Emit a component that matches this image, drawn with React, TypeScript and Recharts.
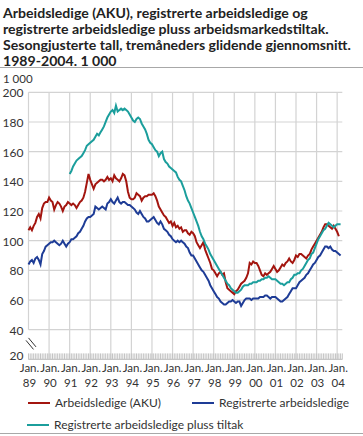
import React from "react";
import { LineChart, Line, XAxis, YAxis, CartesianGrid, ReferenceLine } from "recharts";

const FONT = "Lato, 'Open Sans', sans-serif";
const TEXT = "#333333";
const GRID = "#d3d3d3";

const titleLines = [
  "Arbeidsledige (AKU), registrerte arbeidsledige og",
  "registrerte arbeidsledige pluss arbeidsmarkedstiltak.",
  "Sesongjusterte tall, tremåneders glidende gjennomsnitt.",
  "1989-2004. 1 000",
];

const years = ["89", "90", "91", "92", "93", "94", "95", "96", "97", "98", "99", "00", "01", "02", "03", "04"];
const yTicks = [20, 40, 60, 80, 100, 120, 140, 160, 180, 200];

// Arbeidsledige (AKU), månedlig fra jan. 1989
const aku = [
  107, 109, 107, 110, 112, 116, 118, 115, 122, 125, 126, 126,
  129, 127, 126, 121, 124, 126, 125, 123, 120, 123, 124, 126,
  125, 124, 125, 124, 122, 124, 126, 127, 129, 133, 139, 145,
  141, 138, 135, 138, 139, 140, 141, 141, 140, 141, 143, 141,
  142, 140, 144, 142, 141, 140, 142, 145, 144, 140, 133, 129,
  128, 128, 129, 132, 131, 130, 127, 129, 130, 130, 131, 131,
  131, 132, 130, 127, 123, 121, 119, 117, 116, 114, 112, 113,
  110, 112, 109, 110, 108, 109, 106, 107, 107, 105, 104, 106,
  105, 103, 99, 97, 95, 97, 99, 94, 91, 88, 85, 81,
  80, 78, 76, 78, 79, 77, 78, 72, 68, 67, 66, 65,
  64, 66, 67, 69, 71, 72, 73, 75, 78, 85, 84, 86,
  85, 85, 83, 80, 77, 76, 78, 77, 78, 79, 81, 83,
  81, 79, 80, 82, 84, 83, 85, 86, 88, 86, 85, 87,
  90, 89, 91, 91, 90, 89, 88, 90, 91, 94, 96, 98,
  100, 102, 104, 106, 109, 111, 111, 110, 109, 108, 110, 108,
  106, 103,
];

// Registrerte arbeidsledige, månedlig fra jan. 1989
const registrerte = [
  84, 86, 87, 85, 88, 89, 87, 84, 91, 93, 96, 97,
  98, 99, 99, 100, 99, 98, 97, 98, 100, 98, 96, 98,
  99, 101, 101, 102, 103, 105, 106, 108, 110, 113, 115, 116,
  116, 117, 118, 123, 122, 121, 122, 123, 122, 121, 125, 126,
  128, 126, 125, 127, 129, 126, 125, 126, 126, 125, 124, 124,
  123, 122, 121, 119, 118, 120, 118, 116, 115, 113, 113, 114,
  115, 116, 114, 112, 111, 113, 111, 108, 107, 106, 104, 103,
  101, 100, 99, 100, 99, 100, 99, 98, 96, 95, 92, 90,
  90, 88, 86, 84, 82, 80, 79, 77, 75, 73, 70, 68,
  66, 64, 62, 61, 59, 58, 57, 57, 58, 59, 59, 60,
  59, 58, 59, 59, 56, 58, 60, 61, 61, 61, 60, 61,
  61, 61, 61, 62, 62, 62, 63, 63, 62, 61, 62, 62,
  62, 61, 60, 59, 59, 60, 61, 62, 64, 66, 68, 68,
  68, 70, 72, 73, 74, 75, 77, 78, 80, 82, 84, 85,
  87, 89, 90, 92, 94, 96, 96, 95, 96, 94, 93, 93,
  92, 91, 90,
];

// Registrerte arbeidsledige pluss tiltak, månedlig fra jan. 1991
const plussTiltak = [
  145, 147, 150, 152, 154, 155, 156, 157, 159, 161, 164, 165,
  166, 167, 168, 170, 172, 171, 173, 175, 177, 180, 183, 185,
  187, 188, 186, 191, 187, 188, 189, 188, 189, 188, 187, 185,
  183, 181, 180, 182, 183, 182, 179, 177, 175, 172, 168, 166,
  165, 163, 161, 160, 157, 159, 160, 155, 153, 152, 150, 149,
  148, 147, 146, 143, 141, 140, 137, 134, 130, 127, 125, 122,
  119, 116, 113, 110, 106, 103, 101, 98, 96, 94, 91, 89,
  87, 85, 83, 81, 79, 77, 75, 73, 71, 70, 68, 67,
  66, 65, 65, 66, 67, 69, 70, 70, 70, 71, 71, 72,
  72, 72, 73, 73, 74, 74, 75, 75, 76, 75, 74, 74,
  74, 73, 72, 71, 71, 70, 71, 72, 72, 74, 75, 77,
  77, 78, 78, 80, 81, 83, 85, 87, 88, 91, 92, 95,
  98, 101, 103, 105, 107, 108, 110, 112, 111, 110, 109, 110,
  111, 111, 111,
];
const tiltakStart = 24;

const series = [
  { key: "aku", name: "Arbeidsledige (AKU)", color: "#a3150f" },
  { key: "reg", name: "Registrerte arbeidsledige", color: "#1e3c96" },
  { key: "tiltak", name: "Registrerte arbeidsledige pluss tiltak", color: "#1b9e9c" },
];

const data = registrerte.map((reg, m) => ({
  m,
  aku: m < aku.length ? aku[m] : null,
  reg,
  tiltak: m >= tiltakStart ? plussTiltak[m - tiltakStart] : null,
}));

const monthTicks = Array.from({ length: 184 }, (_, i) => i);
const yearTicks = years.map((_, i) => i * 12);

function MonthTick(props: any) {
  const { x, y, payload } = props;
  const m = payload.value;
  const jan = m % 12 === 0 && m / 12 < years.length;
  return (
    <g>
      <line x1={x} x2={x} y1={y - 6} y2={y} stroke="#c4c4c4" strokeWidth={1} />
      {jan && (
        <text x={x + 1} y={y + 13} textAnchor="middle" fontSize={11.5} fill={TEXT} fontFamily={FONT}>
          Jan.
        </text>
      )}
      {jan && (
        <text x={x + 1} y={y + 28} textAnchor="middle" fontSize={11.5} fill={TEXT} fontFamily={FONT}>
          {years[m / 12]}
        </text>
      )}
    </g>
  );
}

function ValueTick(props: any) {
  const { x, y, payload } = props;
  return (
    <g>
      <text x={x - 5} y={y} dy={payload.value === 20 ? 1 : 5} textAnchor="end" fontSize={12} fill={TEXT} fontFamily={FONT}>
        {payload.value}
      </text>
      {payload.value === 20 && (
        <g stroke="#333" strokeWidth={1}>
          <line x1={x - 2.5} y1={y - 19} x2={x + 5} y2={y - 10} />
          <line x1={x} y1={y - 21.5} x2={x + 7.5} y2={y - 12.5} />
        </g>
      )}
    </g>
  );
}

export default function App() {
  return (
    <div style={{ position: "absolute", left: 0, top: 0, width: 363, height: 436, background: "#fff", fontFamily: FONT, color: TEXT }}>
      <div style={{ position: "absolute", left: 3, top: 4.5, fontSize: 14.1, fontWeight: 700, lineHeight: "16.1px", color: "#222", whiteSpace: "nowrap" }}>
        {titleLines.map((t) => (
          <div key={t}>{t}</div>
        ))}
      </div>
      <div style={{ position: "absolute", left: 0, top: 67, width: 363, height: 1, background: "#a8a8a8" }} />
      <div style={{ position: "absolute", left: 3, top: 71, fontSize: 11.5, lineHeight: "16px" }}>1 000</div>

      <LineChart width={363} height={436} data={data} margin={{ top: 92.3, right: 20.7, bottom: 46.6, left: 0 }}>
        <CartesianGrid vertical={false} stroke={GRID} strokeWidth={1.2} />
        {yearTicks.map((m) => (
          <ReferenceLine
            key={m}
            segment={[{ x: m, y: m === 0 ? 40 : 20 }, { x: m, y: 200 }]}
            stroke={GRID}
            strokeWidth={1.2}
            zIndex={-1}
          />
        ))}
        <XAxis
          dataKey="m"
          type="number"
          domain={[0, 183]}
          ticks={monthTicks}
          interval={0}
          tickSize={0}
          tickMargin={0}
          tickLine={false}
          axisLine={{ stroke: "#c4c4c4" }}
          tick={<MonthTick />}
          height={30}
        />
        <YAxis
          type="number"
          domain={[20, 200]}
          ticks={yTicks}
          interval={0}
          width={28.5}
          tickSize={0}
          tickMargin={0}
          tickLine={false}
          axisLine={false}
          tick={<ValueTick />}
        />
        {series.map((s) => (
          <Line
            key={s.key}
            type="linear"
            dataKey={s.key}
            name={s.name}
            stroke={s.color}
            strokeWidth={2}
            dot={false}
            activeDot={false}
            isAnimationActive={false}
          />
        ))}
      </LineChart>

      {/* forklaring */}
      <div style={{ position: "absolute", left: 0, top: 395, fontSize: 12, lineHeight: "16px" }}>
        {[
          { s: series[0], x: 28, y: 0 },
          { s: series[1], x: 192, y: 0 },
          { s: series[2], x: 27, y: 22 },
        ].map(({ s, x, y }) => (
          <div key={s.key} style={{ position: "absolute", left: x, top: y, display: "flex", alignItems: "center", whiteSpace: "nowrap" }}>
            <div style={{ width: 22, height: 2, background: s.color, marginRight: 5 }} />
            <span>{s.name}</span>
          </div>
        ))}
      </div>
      <div style={{ position: "absolute", left: 0, top: 433, width: 363, height: 1, background: "#a8a8a8" }} />
    </div>
  );
}
